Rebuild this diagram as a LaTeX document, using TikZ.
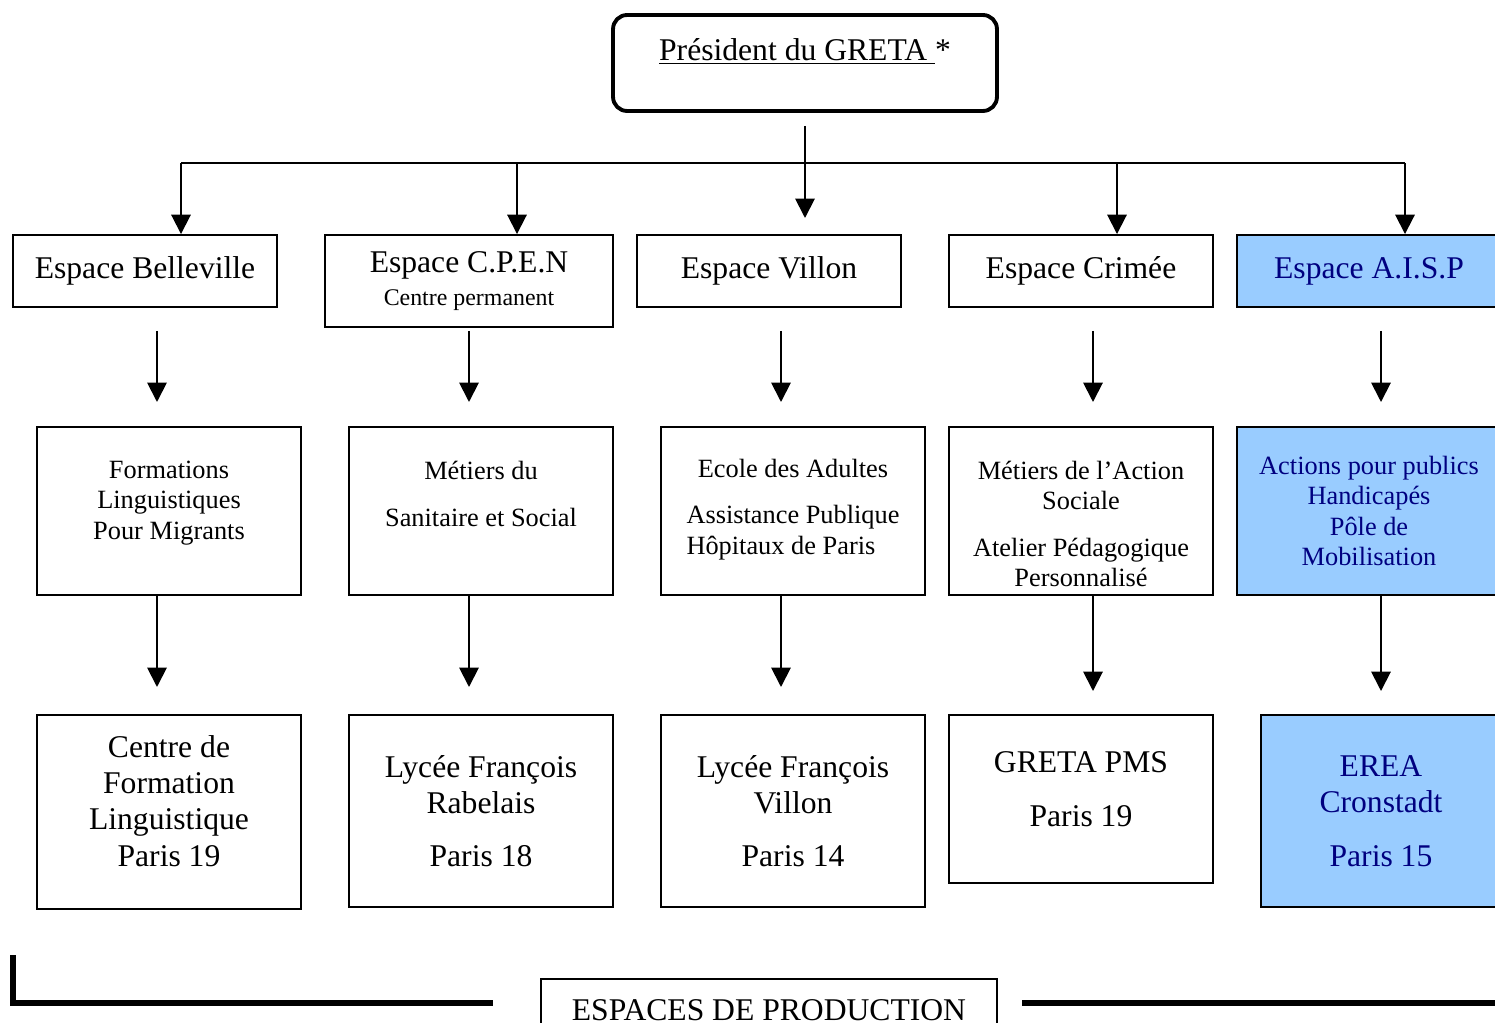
\documentclass[tikz,border=0pt]{standalone}
\usepackage{fontspec}
\setmainfont{Liberation Serif}
\usepackage{tikz}
\usetikzlibrary{arrows.meta, positioning}
\definecolor{aispfill}{HTML}{99CCFF}
\definecolor{aisptext}{HTML}{000080}
\tikzset{>={Triangle[width=11pt,length=11pt]}}
\tikzset{
  box/.style={draw, line width=1.1pt, align=center, inner sep=0pt},
  bigtxt/.style={font=\fontsize{18}{20.5}\selectfont},
  midtxt/.style={font=\fontsize{15}{17.4}\selectfont},
  aisp/.style={fill=aispfill, text=aisptext},
}

\begin{document}
\begin{tikzpicture}[x=0.02cm, y=-0.02cm, line width=1.1pt]

            \useasboundingbox (0,0) rectangle (1495,1023);
            \clip (0,0) rectangle (1495,1023);

            \node[draw, line width=2.2pt, rounded corners=8pt, minimum width=7.68cm, minimum height=1.92cm, bigtxt, text height=12pt, text depth=15pt] (pres) at (805,63) {\underline{Président du GRETA }*};

            \node[box, bigtxt, minimum width=5.28cm, minimum height=1.44cm] (bel) at (145,271) {Espace Belleville};
            \node[box, font=\fontsize{13.6}{19}\selectfont, minimum width=5.76cm, minimum height=1.84cm] (cpen) at (469,281) {{\fontsize{18}{20.5}\selectfont Espace C.P.E.N}\\Centre permanent};
            \node[box, bigtxt, minimum width=5.28cm, minimum height=1.44cm] (vil) at (769,271) {Espace Villon};
            \node[box, bigtxt, minimum width=5.28cm, minimum height=1.44cm] (cri) at (1081,271) {Espace Crimée};
            \node[box, aisp, bigtxt, minimum width=5.28cm, minimum height=1.44cm] (aisp) at (1369,271) {Espace A.I.S.P};

            \node[box, midtxt, minimum width=5.28cm, minimum height=3.36cm] (form) at (169,511) {Formations\\Linguistiques\\Pour Migrants\\[-5pt]\mbox{}};
            \node[box, midtxt, minimum width=5.28cm, minimum height=3.36cm] (meti) at (481,511) {Métiers du\\[9pt]Sanitaire et Social\\[2pt]\mbox{}};
            \node[box, midtxt, minimum width=5.28cm, minimum height=3.36cm] (ecole) at (793,511) {Ecole des Adultes\\[9pt]\begin{tabular}[t]{@{}l@{}}Assistance Publique\\Hôpitaux de Paris\end{tabular}};
            \node[box, midtxt, minimum width=5.28cm, minimum height=3.36cm] (action) at (1081,511) {\mbox{}\\[8pt]Métiers de l’Action\\Sociale\\[9pt]Atelier Pédagogique\\Personnalisé};
            \node[box, aisp, midtxt, minimum width=5.28cm, minimum height=3.36cm] (handi) at (1369,511) {Actions pour publics\\Handicapés\\Pôle de\\Mobilisation};

            \node[box, bigtxt, minimum width=5.28cm, minimum height=3.88cm] (cfl) at (169,812) {Centre de\\Formation\\Linguistique\\Paris 19\\[-8pt]\mbox{}};
            \node[box, bigtxt, minimum width=5.28cm, minimum height=3.84cm] (rab) at (481,811) {Lycée François\\Rabelais\\[10pt]Paris 18};
            \node[box, bigtxt, minimum width=5.28cm, minimum height=3.84cm] (lfv) at (793,811) {Lycée François\\Villon\\[10pt]Paris 14};
            \node[box, bigtxt, minimum width=5.28cm, minimum height=3.36cm] (pms) at (1081,799) {GRETA PMS\\[10pt]Paris 19\\[-9pt]\mbox{}};
            \node[box, aisp, bigtxt, minimum width=4.8cm, minimum height=3.84cm] (erea) at (1381,811) {EREA\\Cronstadt\\[10pt]Paris 15};

            \node[draw, line width=0.8pt, bigtxt, inner sep=0pt, minimum width=9.12cm, minimum height=1.26cm, text height=11.9pt, text depth=0pt] (esp) at (769,1010.5) {ESPACES DE PRODUCTION};

            % president to the espaces
            \coordinate (top) at (805,126);
            \coordinate (mid) at (805,218);
            \draw[->] (top) -- (mid);
            \coordinate (j1) at (181,163);
            \coordinate (j2) at (517,163);
            \coordinate (j3) at (1117,163);
            \coordinate (j4) at (1405,163);
            \draw (j1) -- (j4);
            \draw[->] (j1) -- (j1 |- bel.north);
            \draw[->] (j2) -- (j2 |- cpen.north);
            \draw[->] (j3) -- (j3 |- cri.north);
            \draw[->] (j4) -- (j4 |- aisp.north);

            % espaces to the formations
            \coordinate (u1) at (157,331);
            \coordinate (u2) at (469,331);
            \coordinate (u3) at (781,331);
            \coordinate (u4) at (1093,331);
            \coordinate (u5) at (1381,331);
            \coordinate (v1) at (157,402);
            \coordinate (v2) at (469,402);
            \coordinate (v3) at (781,402);
            \coordinate (v4) at (1093,402);
            \coordinate (v5) at (1381,402);
            \draw[->] (u1) -- (v1);
            \draw[->] (u2) -- (v2);
            \draw[->] (u3) -- (v3);
            \draw[->] (u4) -- (v4);
            \draw[->] (u5) -- (v5);

            % formations to the sites
            \coordinate (w1) at (157,687);
            \coordinate (w2) at (469,687);
            \coordinate (w3) at (781,687);
            \coordinate (w4) at (1093,691);
            \coordinate (w5) at (1381,691);
            \draw[->] (form.south -| w1) -- (w1);
            \draw[->] (meti.south -| w2) -- (w2);
            \draw[->] (ecole.south -| w3) -- (w3);
            \draw[->] (action.south -| w4) -- (w4);
            \draw[->] (handi.south -| w5) -- (w5);

            \draw[line width=3.4pt] (13,955) |- (493,1003);
            \draw[line width=3.4pt] (1022,1003) -- (1500,1003);
\end{tikzpicture}
\end{document}
